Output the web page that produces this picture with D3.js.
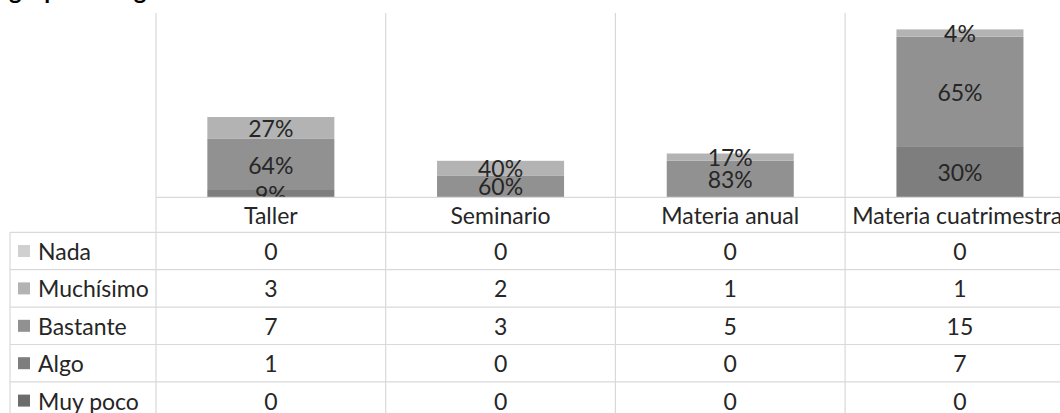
<!DOCTYPE html>
<html>
<head>
<meta charset="utf-8">
<script src="https://cdn.jsdelivr.net/npm/d3@7"></script>
<style>
  body { margin: 0; background: #ffffff; }
  svg { display: block; }
</style>
</head>
<body>
<div id="chart"></div>
<script>
// data
const categories = ["Taller", "Seminario", "Materia anual", "Materia cuatrimestral"];
const seriesNames = ["Nada", "Muchísimo", "Bastante", "Algo", "Muy poco"];
const nada = [0, 0, 0, 0];
const muchisimo = [3, 2, 1, 1];
const bastante = [7, 3, 5, 15];
const algo = [1, 0, 0, 7];
const muyPoco = [0, 0, 0, 0];
const seriesValues = [nada, muchisimo, bastante, algo, muyPoco];
const seriesColors = ["#d0d0d0", "#b3b3b3", "#919191", "#7e7e7e", "#6c6c6c"];
const yMax = 25;
const titleText = "grupo de la g";

const width = 1060, height = 413;
const font = "Lato, 'Open Sans', sans-serif";
const fontSize = "23px";
const gridColor = "#d9d9d9";
const textColor = "#262626";

// table rows keyed by category
const rows = categories.map((c, i) => {
    const r = { category: c };
    seriesNames.forEach((s, j) => { r[s] = seriesValues[j][i]; });
    r.total = d3.sum(seriesNames, s => r[s]);
    return r;
});

const svg = d3.select("#chart").append("svg")
    .attr("width", width)
    .attr("height", height)
    .attr("viewBox", `0 0 ${width} ${height}`);

// 区域
const plotTop = 13, axisY = 197.3;
const tableLeft = 10, headerBottom = 232.3, rowH = 37.4;
const tableBottom = headerBottom + rowH * seriesNames.length;

const xScale = d3.scaleBand().domain(categories).range([156, 1074.8]).padding(0);
const yScale = d3.scaleLinear().domain([0, yMax]).range([axisY, axisY - yMax * 7.3]);
const barW = xScale.bandwidth() * 0.553;

// title, cut by the top edge
svg.append("text")
    .attr("x", 9)
    .attr("y", -1)
    .style("font-family", font)
    .style("font-size", "24px")
    .style("font-weight", "bold")
    .style("fill", "#000")
    .text(titleText);

// stacked bars (bottom: Muy poco -> top: Nada)
const stackKeys = [...seriesNames].reverse();
const colorOf = d3.scaleOrdinal().domain(seriesNames).range(seriesColors);
const stacked = d3.stack().keys(stackKeys)(rows);

const defs = svg.append("defs");
defs.append("clipPath").attr("id", "plot-clip")
    .append("rect")
    .attr("x", 0).attr("y", 0)
    .attr("width", width).attr("height", axisY);

const barsG = svg.append("g");
stacked.forEach(layer => {
    barsG.selectAll(null)
        .data(layer.filter(d => d[1] - d[0] > 0))
        .enter().append("rect")
        .attr("x", d => xScale(d.data.category) + (xScale.bandwidth() - barW) / 2)
        .attr("y", d => yScale(d[1]))
        .attr("width", barW)
        .attr("height", d => yScale(d[0]) - yScale(d[1]))
        .attr("fill", colorOf(layer.key));
});

// percentage labels
const labelsG = svg.append("g").attr("clip-path", "url(#plot-clip)");
stacked.forEach(layer => {
    labelsG.selectAll(null)
        .data(layer.filter(d => d[1] - d[0] > 0))
        .enter().append("text")
        .attr("x", d => xScale(d.data.category) + xScale.bandwidth() / 2)
        .attr("y", d => (yScale(d[0]) + yScale(d[1])) / 2 + 1)
        .attr("dy", "0.35em")
        .attr("text-anchor", "middle")
        .style("font-family", font)
        .style("font-size", fontSize)
        .style("fill", textColor)
        .text(d => Math.round((d[1] - d[0]) / d.data.total * 100) + "%");
});

// grid / table lines
const gridG = svg.append("g").attr("stroke", gridColor).attr("stroke-width", 1.2);
const colEdges = categories.map(c => xScale(c)).concat([xScale.range()[1]]);
colEdges.forEach(x => {
    gridG.append("line")
        .attr("x1", x).attr("x2", x)
        .attr("y1", plotTop).attr("y2", tableBottom);
});
gridG.append("line")
    .attr("x1", tableLeft).attr("x2", tableLeft)
    .attr("y1", headerBottom).attr("y2", tableBottom);
gridG.append("line")
    .attr("x1", xScale.range()[0]).attr("x2", xScale.range()[1])
    .attr("y1", axisY).attr("y2", axisY);
d3.range(seriesNames.length + 1).forEach(i => {
    const y = headerBottom + i * rowH;
    gridG.append("line")
        .attr("x1", tableLeft).attr("x2", xScale.range()[1])
        .attr("y1", y).attr("y2", y);
});

// category headers
svg.append("g").selectAll("text")
    .data(categories)
    .enter().append("text")
    .attr("x", d => xScale(d) + xScale.bandwidth() / 2)
    .attr("y", (axisY + headerBottom) / 2 + 1)
    .attr("dy", "0.35em")
    .attr("text-anchor", "middle")
    .style("font-family", font)
    .style("font-size", fontSize)
    .style("fill", textColor)
    .text(d => d);

// table body
seriesNames.forEach((s, i) => {
    const cy = headerBottom + i * rowH + rowH / 2 + 1;
    svg.append("rect")
        .attr("x", 18)
        .attr("y", cy - 7)
        .attr("width", 12)
        .attr("height", 12)
        .attr("fill", colorOf(s));
    svg.append("text")
        .attr("x", 38)
        .attr("y", cy)
        .attr("dy", "0.35em")
        .style("font-family", font)
        .style("font-size", fontSize)
        .style("fill", textColor)
        .text(s);
    rows.forEach(r => {
        svg.append("text")
            .attr("x", xScale(r.category) + xScale.bandwidth() / 2)
            .attr("y", cy)
            .attr("dy", "0.35em")
            .attr("text-anchor", "middle")
            .style("font-family", font)
            .style("font-size", fontSize)
            .style("fill", textColor)
            .text(r[s]);
    });
});
</script>
</body>
</html>
